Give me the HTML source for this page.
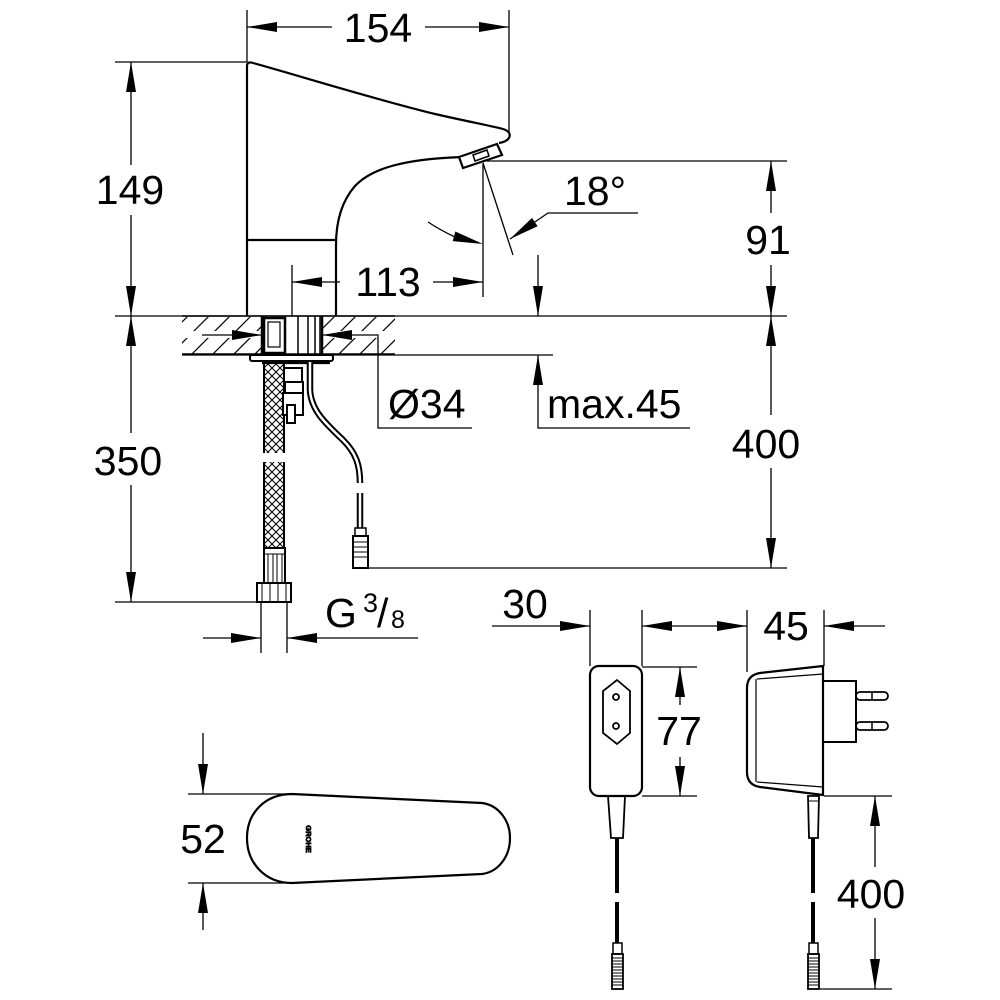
<!DOCTYPE html>
<html><head><meta charset="utf-8">
<style>html,body{margin:0;padding:0;background:#fff;}svg{display:block}
text{font-family:"Liberation Sans",Arial,sans-serif;fill:#000;}</style></head>
<body>
<svg width="1000" height="1000" viewBox="0 0 1000 1000" xmlns="http://www.w3.org/2000/svg">
<defs>
<pattern id="hatch" patternUnits="userSpaceOnUse" width="21" height="21"><path d="M-2,23 L23,-2 M-2,2 L2,-2 M19,23 L23,19" stroke="#000" stroke-width="1.2"/></pattern>
<pattern id="xh" patternUnits="userSpaceOnUse" width="8" height="8" x="264" y="0"><path d="M0,0 L8,8 M8,0 L0,8" stroke="#000" stroke-width="1"/></pattern>
</defs>
<rect width="1000" height="1000" fill="#fff"/>

<!-- hatching -->
<rect x="182" y="317" width="80" height="37" fill="url(#hatch)"/>
<rect x="322" y="317" width="73" height="37" fill="url(#hatch)"/>
<rect x="182" y="331" width="80" height="7" fill="#fff"/>
<rect x="322" y="331" width="73" height="7" fill="#fff"/>

<!-- dimension lines -->
<g fill="none" stroke="#000" stroke-width="1.3">
<path d="M247,10 V62 M509,10 V133 M247,27 H332 M425,27 H509"/>
<path d="M115,62 H247 M131,62 V165 M131,215 V316"/>
<path d="M115,316 H787"/>
<path d="M292,265 V316 M483,163 V297 M292,282 H340 M433,282 H483"/>
<path d="M487,161 H787"/>
<path d="M771,161 V213 M771,265 V415 M771,468 V568"/>
<path d="M368,568 H787"/>
<path d="M483,163 L513,255 M428,222 Q440,230 455,237 M510,239 L548,213 H638"/>
<path d="M538,255 V316 M182,355 H553 M538,355 V428 H690"/>
<path d="M202,335 H262 M322,335 H378 V428 H472"/>
<path d="M115,602 H257 M131,316 V433 M131,485 V602"/>
<path d="M261,602 V653 M287,602 V653 M203,638 H261 M287,638 H418"/>
<path d="M590,610 V666 M642,610 V666 M747,610 V672 M824,610 V666 M492,626 H590 M642,626 H747 M824,626 H885"/>
<path d="M642,667 H697 M642,796 H697 M680,667 V705 M680,757 V796"/>
<path d="M824,796 H892 M820,989 H892 M875,796 V867 M875,918 V989"/>
<path d="M203,733 V794 M203,883 V930 M188,794 H292 M188,883 H292"/>
</g>

<!-- arrowheads -->
<g fill="#000" stroke="none">
<polygon points="247,27 277,22 277,32"/><polygon points="509,27 479,22 479,32"/>
<polygon points="131,62 126,92 136,92"/><polygon points="131,316 126,286 136,286"/>
<polygon points="292,282 322,277 322,287"/><polygon points="483,282 453,277 453,287"/>
<polygon points="771,161 766,191 776,191"/><polygon points="771,316 766,286 776,286"/>
<polygon points="771,316 766,346 776,346"/><polygon points="771,568 766,538 776,538"/>
<polygon points="538,316 533,286 543,286"/><polygon points="538,355 533,385 543,385"/>
<polygon points="262,335 232,330 232,340"/><polygon points="322,335 352,330 352,340"/>
<polygon points="131,316 126,346 136,346"/><polygon points="131,602 126,572 136,572"/>
<polygon points="261,638 231,633 231,643"/><polygon points="287,638 317,633 317,643"/>
<polygon points="590,626 560,621 560,631"/><polygon points="642,626 672,621 672,631"/>
<polygon points="747,626 717,621 717,631"/><polygon points="824,626 854,621 854,631"/>
<polygon points="680,667 675,697 685,697"/><polygon points="680,796 675,766 685,766"/>
<polygon points="875,796 870,826 880,826"/><polygon points="875,989 870,959 880,959"/>
<polygon points="203,794 198,764 208,764"/><polygon points="203,883 198,913 208,913"/>
<polygon points="483,244 452.7,241.1 455.3,231.5"/>
<polygon points="510,239 537.6,226.2 532,217.9"/>
</g>

<!-- faucet -->
<g fill="none" stroke="#000" stroke-width="2.2">
<path d="M247,316 V66 Q247,61 253,63 C300,76 370,98 435,114 C470,122 492,126 503,129 Q512,132 509,138 Q506,142 499,143"/>
<path d="M462,157 C405,159 372,168 355,186 C341,202 336,222 336,245 V316"/>
<path d="M247,240 H336"/>
<polygon points="459,157 497,144 502,155 463,168" fill="#fff"/>
<polygon points="473,155 487,150 489,156 475,161" stroke-width="1.5"/>
</g>

<!-- mount -->
<g fill="none" stroke="#000">
<path d="M262,316 V355 M322,316 V355" stroke-width="2.5"/>
<rect x="264" y="318" width="21" height="35" stroke-width="2.5"/>
<rect x="268" y="322" width="12" height="25" stroke-width="1.2"/>
<path d="M298,316 V355 M308,316 V355 M315,316 V355 M320,316 V355" stroke-width="1.5"/>
<path d="M182,316 H395 M182,354 H395" stroke-width="1.5"/>
<rect x="250" y="355" width="83" height="6" rx="2" stroke-width="2" fill="#fff"/>
<path d="M262,363 H330" stroke-width="2.2"/>
</g>

<!-- hose -->
<g stroke="#000" fill="none">
<rect x="264" y="364" width="20" height="89" fill="url(#xh)" stroke="none"/>
<rect x="264" y="462" width="20" height="86" fill="url(#xh)" stroke="none"/>
<path d="M264,364 V453 M284,364 V453 M264,462 V548 M284,462 V548" stroke-width="2"/>
<rect x="264" y="548" width="21" height="35" stroke-width="2" fill="#fff"/>
<path d="M264,554 H285 M268,554 V583 M273,554 V583 M277,554 V583 M282,554 V583" stroke-width="1"/>
<rect x="257" y="583" width="34" height="19" stroke-width="2" fill="#fff"/>
<path d="M262,583 V602 M270,583 V602 M278,583 V602 M286,583 V602" stroke-width="1"/>
</g>

<!-- sensor connector -->
<g stroke="#000" fill="#fff" stroke-width="2">
<rect x="284" y="368" width="18" height="14"/>
<rect x="285" y="382" width="18" height="11"/>
<rect x="283" y="393" width="20" height="22"/>
<rect x="287" y="405" width="8" height="18"/>
</g>

<!-- cable -->
<g fill="none" stroke-linecap="butt">
<path d="M310,362 V390 C311,410 325,423 343,440 C356,453 360,465 360,483" stroke="#000" stroke-width="6.5"/>
<path d="M310,362 V390 C311,410 325,423 343,440 C356,453 360,465 360,483" stroke="#fff" stroke-width="2.5"/>
<path d="M360,493 V530" stroke="#000" stroke-width="6.5"/>
<path d="M360,493 V530" stroke="#fff" stroke-width="2.5"/>
</g>
<g stroke="#000" fill="#fff">
<rect x="355" y="528" width="11" height="8" stroke-width="1.5"/>
<rect x="353" y="536" width="15" height="32" stroke-width="2"/>
<path d="M353,542 H368 M353,547 H368 M353,552 H368 M353,557 H368" stroke-width="1"/>
</g>

<!-- front adapter -->
<g stroke="#000" fill="none">
<rect x="590" y="666" width="52" height="130" rx="9" stroke-width="2.2"/>
<polygon points="617,680 630,691 630,733 617,744 603,733 603,691" stroke-width="1.8"/>
<circle cx="616" cy="697" r="3" stroke-width="1.8"/>
<circle cx="616" cy="726" r="3" stroke-width="1.8"/>
<polygon points="608,796 625,796 623,838 611,838" stroke-width="1.8"/>
<path d="M617,838 V893 M617,902 V943" stroke-width="4"/>
<rect x="613" y="943" width="9" height="11" stroke-width="1.5"/>
<rect x="612" y="954" width="11" height="35" stroke-width="1.8"/>
<path d="M612,958 H623 M612,961 H623 M612,964 H623 M612,967 H623 M612,970 H623 M612,973 H623 M612,976 H623 M612,979 H623 M612,982 H623 M612,985 H623" stroke-width="1"/>
</g>

<!-- side adapter -->
<g stroke="#000" fill="none">
<path d="M760,673 L823,666 V795 L760,787 Q747,785 747,772 V688 Q747,675 760,673 Z" stroke-width="2.2"/>
<path d="M756,679 V782 M757,679 L823,674 M757,782 L823,787" stroke-width="1.2"/>
<rect x="823" y="681" width="33" height="61" stroke-width="2"/>
<rect x="856" y="692" width="32" height="8" rx="4" stroke-width="1.8"/>
<rect x="856" y="722" width="32" height="8" rx="4" stroke-width="1.8"/>
<path d="M872,692 V700 M872,722 V730" stroke-width="1.5"/>
<polygon points="808,796 819,796 818,838 809,838" stroke-width="1.8"/>
<path d="M808,801 H819" stroke-width="1"/>
<path d="M813,838 V893 M813,902 V943" stroke-width="4"/>
<rect x="809" y="943" width="9" height="11" stroke-width="1.5"/>
<rect x="808" y="954" width="11" height="35" stroke-width="1.8"/>
<path d="M808,958 H819 M808,961 H819 M808,964 H819 M808,967 H819 M808,970 H819 M808,973 H819 M808,976 H819 M808,979 H819 M808,982 H819 M808,985 H819" stroke-width="1"/>
</g>

<!-- handle top view -->
<path d="M292,794 L482,803 C498,805 510,820 510,838 C510,857 498,872 482,874 L292,883 C265,883 247,863 247,838 C247,813 265,794 292,794 Z" fill="none" stroke="#000" stroke-width="2.2"/>
<text transform="translate(306,839) rotate(90)" font-size="7.5" font-weight="bold" text-anchor="middle" stroke="#000" stroke-width="0.8">GROHE</text>

<!-- labels -->
<g font-size="41">
<text x="378" y="42" text-anchor="middle">154</text>
<text x="130" y="204" text-anchor="middle">149</text>
<text x="388" y="296" text-anchor="middle">113</text>
<text x="595" y="205" text-anchor="middle">18°</text>
<text x="768" y="254" text-anchor="middle">91</text>
<text x="766" y="458" text-anchor="middle">400</text>
<text x="547" y="418">max.45</text>
<text x="388" y="418">Ø34</text>
<text x="128" y="475" text-anchor="middle">350</text>
<text x="325" y="627">G</text>
<text x="363" y="612" font-size="27">3</text>
<text x="377" y="627">/</text>
<text x="391" y="628" font-size="25">8</text>
<text x="525" y="618" text-anchor="middle">30</text>
<text x="786" y="640" text-anchor="middle">45</text>
<text x="679" y="745" text-anchor="middle">77</text>
<text x="203" y="853" text-anchor="middle">52</text>
<text x="871" y="908" text-anchor="middle">400</text>
</g>
</svg>
</body></html>
